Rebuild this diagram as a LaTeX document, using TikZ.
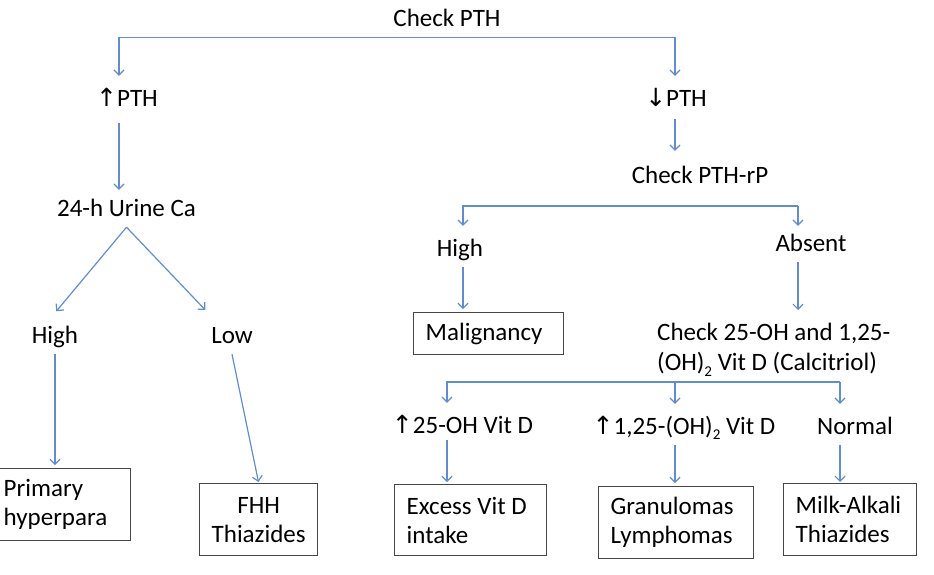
\documentclass[tikz,border=0pt]{standalone}
\usepackage{fontspec}
\setmainfont{Carlito}
\newfontfamily\arrfont{DejaVu Sans}
\usetikzlibrary{arrows.meta,calc}
\definecolor{lnblue}{RGB}{100,140,200}
\definecolor{boxgray}{RGB}{70,70,70}
\newcommand\uarr{{\arrfont ↑}}
\newcommand\darr{{\arrfont ↓}}
\newcommand\subtwo{\raisebox{-0.22em}{\fontsize{15}{15}\selectfont 2}}
\tikzset{
  lbl/.style={font=\fontsize{25}{30}\selectfont, inner xsep=0pt, inner ysep=3pt,
    text height=27pt, text depth=8pt, anchor=base},
  box/.style={draw=boxgray, line width=1.4pt, font=\fontsize{25}{29}\selectfont,
    inner xsep=12pt, inner ysep=0pt, align=flush left, anchor=north west},
  arr/.style={draw=lnblue, line width=1.2pt, -{Straight Barb[length=5pt,width=10pt]}},
}
\begin{document}
\begin{tikzpicture}[x=1pt,y=1pt]
\useasboundingbox (0,0) rectangle (934,-574);
% x positions of connectors
\coordinate (x119) at (119,0);
\coordinate (x208) at (208,0);
\coordinate (x447) at (447,0);
\coordinate (x463) at (463,0);
\coordinate (x675) at (675,0);
\coordinate (x798) at (798,0);
\coordinate (x840) at (840,0);
\coordinate (barB) at (0,-206);
\coordinate (barC) at (0,-382);
% text nodes
\node[lbl] (chk) at (447,-26) {Check PTH};
\node[lbl] (upPTH) at (127,-106) {\uarr PTH};
\node[lbl] (urine) at (126.5,-216) {24-h Urine Ca};
\node[lbl] (hiL) at (55,-343) {High};
\node[lbl] (low) at (232,-343) {Low};
\node[lbl] (dnPTH) at (676,-106) {\darr PTH};
\node[lbl] (rp) at (700,-183) {Check PTH-rP};
\node[lbl] (hiR) at (460,-256) {High};
\node[lbl] (absent) at (811,-251) {Absent};
\node[font=\fontsize{25}{30}\selectfont, align=left, inner sep=0pt, anchor=north west]
  (vitd) at (657,-323) {Check 25-OH and 1,25-\\(OH)\subtwo{} Vit D (Calcitriol)};
\node[lbl] (up25) at (462.5,-433) {\uarr 25-OH Vit D};
\node[lbl] (up125) at (684,-434) {\uarr 1,25-(OH)\subtwo{} Vit D};
\node[lbl] (normal) at (855,-434) {Normal};
% boxes
\node[box, text width=115pt, minimum height=72pt] (prim) at (-9,-468) {Primary\\hyperpara};
\node[box, inner xsep=10pt, text width=98pt, minimum height=72pt, align=center] (fhh) at (199,-483) {FHH\\Thiazides};
\node[box, text width=126pt, minimum height=42pt] (malig) at (413,-312) {Malignancy};
\node[box, text width=128pt, minimum height=71pt] (excess) at (394,-484) {Excess Vit D\\intake};
\node[box, text width=131pt, minimum height=72pt] (gran) at (598,-486) {Granulomas\\Lymphomas};
\node[box, text width=109pt, minimum height=72pt] (milk) at (783,-483) {Milk-Alkali\\Thiazides};
% connectors
\draw[arr] (chk.south -| x675) -- (chk.south -| x119) -- (upPTH.north -| x119);
\draw[arr] (chk.south -| x675) -- (dnPTH.north -| x675);
\draw[arr, shorten <=6pt, shorten >=-4pt] (upPTH.south -| x119) -- (urine.north -| x119);
\draw[arr, shorten >=2pt] (urine.south) -- (hiL.north);
\draw[arr, shorten >=4pt] (urine.south) -- (low.north -| x208);
\draw[arr, shorten >=3pt] (hiL.south) -- (hiL.south |- prim.north);
\draw[arr, shorten >=1pt] (low.south) -- (fhh.north);
\draw[arr, shorten <=2pt, shorten >=2pt] (dnPTH.south -| x675) -- (rp.north -| x675);
\draw[arr] (barB -| x798) -- (barB -| x463) -- (hiR.north -| x463);
\draw[arr] (barB -| x798) -- (hiR.north -| x798);
\draw[arr, shorten >=3pt] (hiR.south -| x463) -- (malig.north -| x463);
\draw[arr, shorten >=13pt] (absent.south -| x798) -- (vitd.north -| x798);
\draw[arr] (barC -| x840) -- (barC -| x447) -- (up25.north -| x447);
\draw[arr] (barC -| x675) -- (up125.north -| x675);
\draw[arr] (barC -| x840) -- (normal.north -| x840);
\draw[arr, shorten <=-4pt, shorten >=2pt] (up25.south -| x447) -- (excess.north -| x447);
\draw[arr, shorten >=3pt] (up125.south -| x675) -- (gran.north -| x675);
\draw[arr, shorten >=1pt] (normal.south -| x840) -- (milk.north -| x840);
\end{tikzpicture}
\end{document}
